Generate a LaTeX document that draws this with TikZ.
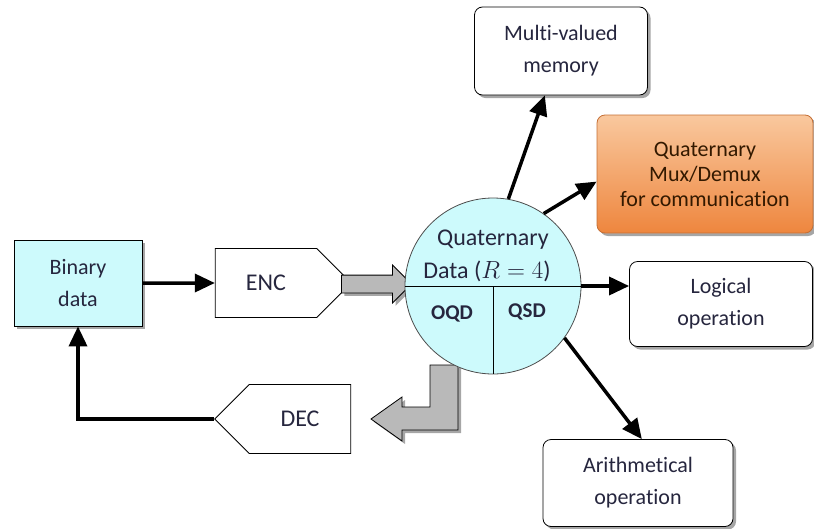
\documentclass[tikz,border=0pt]{standalone}
\usepackage{fontspec}
\setmainfont{Carlito}[Ligatures=NoCommon]
\usetikzlibrary{arrows.meta,shapes.symbols,shapes.arrows,shadows}
\definecolor{cyanfill}{RGB}{205,250,252}
\definecolor{orangetop}{RGB}{249,200,158}
\definecolor{orangebot}{RGB}{238,134,62}
\definecolor{orangeline}{RGB}{196,110,52}
\definecolor{txt}{RGB}{38,38,62}
\tikzstyle{dropsh}=[drop shadow={shadow xshift=3pt,shadow yshift=-3pt,fill=gray!70,opacity=1}]
\tikzstyle{box}=[draw,thick,fill=white,rounded corners=8pt,dropsh,align=center,text=txt,font=\fontsize{22}{32}\selectfont]
\tikzstyle{databox}=[draw,thick,fill=cyanfill,dropsh,align=center,text=txt,minimum width=128pt,minimum height=86pt,font=\fontsize{22}{32}\selectfont]
\tikzstyle{codec}=[signal,draw,thick,fill=white,text=txt,minimum width=136pt,minimum height=69pt,font=\fontsize{24}{28}\selectfont]
\tikzstyle{blockarrow}=[single arrow,draw,thick,fill=gray!55,inner sep=8.5pt,minimum height=70pt,single arrow head extend=10pt,dropsh]
\tikzstyle{datacircle}=[circle,draw=black!70,thick,fill=cyanfill,minimum size=176pt,inner sep=0pt]
\tikzstyle{circtext}=[text=txt,inner sep=1pt,font=\fontsize{24}{28}\selectfont]
\tikzstyle{digit}=[text=txt,inner sep=1pt,font=\fontsize{21}{24}\selectfont\bfseries]
\tikzstyle{conn}=[line width=3.5pt,-{Triangle[length=20pt,width=18pt]}]

\begin{document}
\begin{tikzpicture}[x=1pt,y=-1pt]
\useasboundingbox (0,0) rectangle (814,528);
% left side: binary data and the two converters
\node[databox] at (78, 283) (bin) {Binary\\data};
\node[codec, signal to=east] at (266, 283) (enc) {ENC};
\node[codec, signal to=west] at (300, 419) (dec) {DEC};
\node[blockarrow] at (372, 284) (fwd) {};
\filldraw[thick, fill=gray!55, dropsh] (430,365) -- (458,365) -- (458,430) -- (402,430) -- (402,441) -- (371,419) -- (402,397) -- (402,407) -- (430,407) -- cycle;
% quaternary data circle
\node[datacircle] at (493, 286) (circ) {};
\draw[thick] (circ.west) -- (circ.east);
\draw[thick] (circ.center) -- (circ.south);
\node[circtext] at (493, 240) (qt) {Quaternary};
\node[circtext] at (487, 271) (qd) {Data ($R=4$)};
\node[digit] at (452, 314) (oqd) {OQD};
\node[digit] at (527, 312) (qsd) {QSD};
% applications
\node[box, minimum width=173pt, minimum height=88pt] at (561, 51) (mem) {Multi-valued\\memory};
\node[box, draw=orangeline, top color=orangetop, bottom color=orangebot, text=black!80!orange, minimum width=216pt, minimum height=118pt, font=\fontsize{22}{25}\selectfont] at (705, 174) (mux) {Quaternary\\Mux/Demux\\for communication};
\node[box, minimum width=183pt, minimum height=85pt] at (721, 304) (logic) {Logical\\operation};
\node[box, minimum width=190pt, minimum height=87pt] at (638, 483) (arith) {Arithmetical\\operation};
% connectors
\draw[conn] (bin) -- (enc);
\draw[conn] (circ.80) -- (mem.250);
\draw[conn] (circ.55) -- (mux.184);
\draw[conn] (circ.east) -- (circ.east -| logic.west);
\draw[conn] (circ.-36) -- (arith.85);
\draw[conn] (dec.west) -| (bin.south);
\end{tikzpicture}
\end{document}
